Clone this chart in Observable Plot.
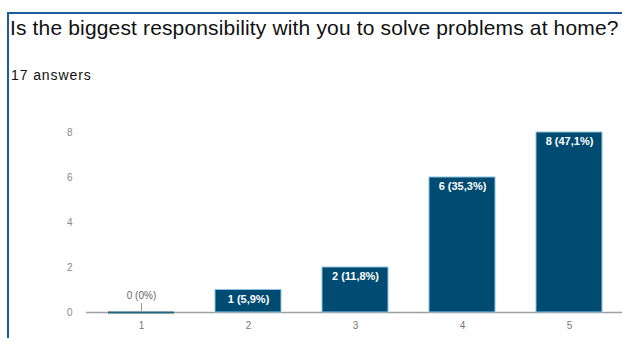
<!DOCTYPE html>
<html>
<head>
<meta charset="utf-8">
<script src="https://cdn.jsdelivr.net/npm/d3@7"></script>
<script src="https://cdn.jsdelivr.net/npm/@observablehq/plot@0.6"></script>
<style>
  html, body { margin: 0; padding: 0; background: #fff; }
  body { width: 622px; height: 338px; position: relative; overflow: hidden; font-family: "Liberation Sans", Arial, sans-serif; }
  #frame { position: absolute; left: 7px; top: 12px; width: 640px; height: 400px; border-left: 2px solid #1f5c9e; border-top: 2px solid #1f5c9e; }
  #title { position: absolute; left: 10px; top: 16px; font-size: 21px; letter-spacing: 0.15px; color: #111; white-space: nowrap; line-height: 24px; }
  #sub { position: absolute; left: 11px; top: 67px; font-size: 14px; letter-spacing: 0.9px; color: #111; line-height: 16px; }
  #chart { position: absolute; left: 0; top: 100px; }
</style>
</head>
<body>
<div id="frame"></div>
<div id="title">Is the biggest responsibility with you to solve problems at home?</div>
<div id="sub">17 answers</div>
<div id="chart"></div>
<script>
const categories = ["1", "2", "3", "4", "5"];
const counts = [0, 1, 2, 6, 8];
const total = 17;
const yTicks = [0, 2, 4, 6, 8];

const data = categories.map((c, i) => {
  const pct = counts[i] / total * 100;
  const p = counts[i] === 0 ? "0" : pct.toFixed(1).replace(".", ",");
  return { cat: c, count: counts[i], label: `${counts[i]} (${p}%)` };
});
const nonzero = data.filter(d => d.count > 0);
const zero = data.filter(d => d.count === 0);

const chart = Plot.plot({
  width: 622,
  height: 238,
  marginLeft: 86,
  marginRight: 0,
  marginTop: 32,
  marginBottom: 26,
  style: { fontFamily: "Liberation Sans, Arial, sans-serif", background: "transparent" },
  x: { domain: categories, range: [87.4, 623.6], paddingInner: 0.38, paddingOuter: 0.19, label: null },
  y: { domain: [0, 8], label: null },
  marks: [
    Plot.axisY({ ticks: yTicks, tickSize: 0, tickPadding: 14, fontSize: 10, fill: "#8a8a8a" }),
    Plot.axisX({ tickSize: 0, tickPadding: 9, fontSize: 10, fill: "#777" }),
    Plot.ruleY([0], { stroke: "#9e9e9e", strokeWidth: 1.5 }),
    Plot.barY(nonzero, { x: "cat", y: "count", fill: "#004b72", stroke: "#8cc3e0", strokeWidth: 1 }),
    Plot.tickY(zero, { x: "cat", y: "count", stroke: "#23697c", strokeWidth: 2 }),
    Plot.ruleX(zero, { x: "cat", y1: "count", y2: "count", insetTop: -9, stroke: "#999", strokeWidth: 1 }),
    Plot.text(zero, { x: "cat", y: "count", text: "label", dy: -17, fill: "#666", fontSize: 10, letterSpacing: "0.9px" }),
    Plot.text(nonzero, { x: "cat", y: "count", text: "label", dy: 9, fill: "#fff", fontSize: 11, fontWeight: "bold" })
  ]
});
document.getElementById("chart").appendChild(chart);
</script>
</body>
</html>
